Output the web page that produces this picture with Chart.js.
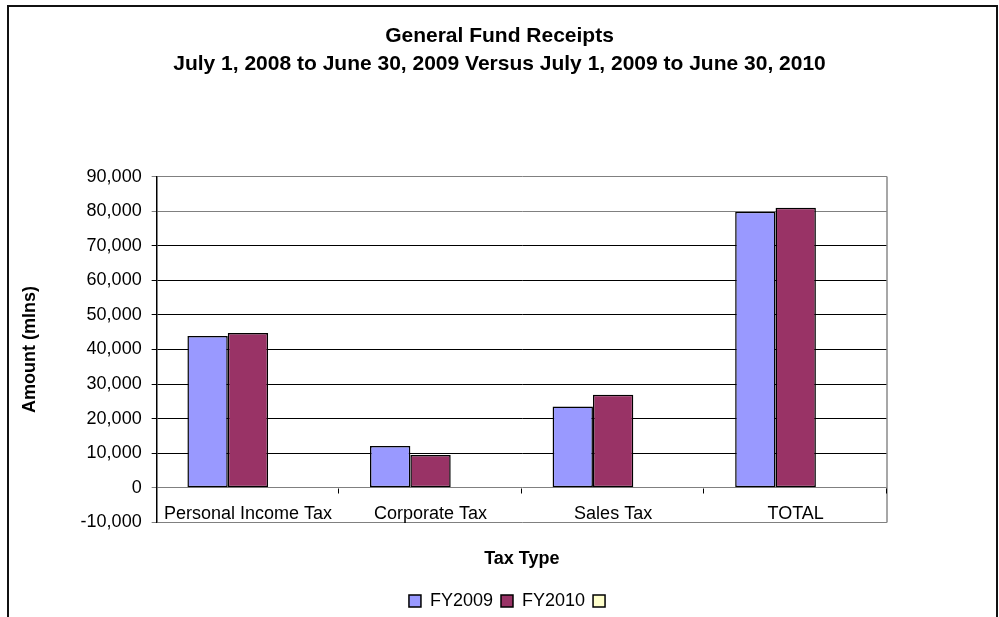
<!DOCTYPE html>
<html>
<head>
<meta charset="utf-8">
<script src="https://cdn.jsdelivr.net/npm/chart.js@4"></script>
<style>
  html, body { margin: 0; padding: 0; background: #fff; overflow: hidden; }
  #wrap { width: 999px; height: 617px; overflow: hidden; }
</style>
</head>
<body>
<div id="wrap"><canvas id="receipts" width="999" height="620"></canvas></div>
<script>
// General fund receipts, millions
const taxTypes = ['Personal Income Tax', 'Corporate Tax', 'Sales Tax', 'TOTAL'];
const fy2009 = [43900, 12100, 23500, 79800];
const fy2010 = [44800, 9500, 26900, 81000];
const unnamed = [null, null, null, null];   // third series, left blank in the workbook
const yTicks = [-10000, 0, 10000, 20000, 30000, 40000, 50000, 60000, 70000, 80000, 90000];

const FONT = "'Liberation Sans', Arial, sans-serif";
Chart.defaults.font.family = FONT;
Chart.defaults.font.size = 18;
Chart.defaults.color = '#000';

// frame, right border of the plot and category ticks on the zero line
const framePlugin = {
  id: 'frame',
  afterLayout(chart) {
    // legend sits a little right of the page centre
    chart.legend.left += 12;
    chart.legend.right += 12;
  },
  beforeDraw(chart) {
    const c = chart.ctx;
    c.save();
    c.fillStyle = '#fff';
    c.fillRect(0, 0, chart.width, chart.height);
    c.restore();
  },
  afterDraw(chart) {
    const c = chart.ctx, a = chart.chartArea;
    const y = chart.scales.y;
    c.save();
    c.lineWidth = 2;
    c.strokeStyle = '#111';
    c.strokeRect(8, 6, 989, 700);
    c.strokeStyle = '#8a8a8a';
    c.lineWidth = 1.5;
    c.beginPath();
    c.moveTo(a.right, a.top);
    c.lineTo(a.right, a.bottom);
    c.stroke();
    const y0 = Math.round(y.getPixelForValue(0)) + 0.5;
    const step = (a.right - a.left) / taxTypes.length;
    c.strokeStyle = '#000';
    c.lineWidth = 1;
    c.beginPath();
    for (let i = 1; i <= taxTypes.length; i++) {
      const px = Math.round(a.left + step * i) - 0.5;
      c.moveTo(px, y0);
      c.lineTo(px, y0 + 5);
    }
    c.stroke();
    c.restore();
  }
};

new Chart(document.getElementById('receipts'), {
  type: 'bar',
  data: {
    labels: taxTypes,
    datasets: [
      { label: 'FY2009', data: fy2009, backgroundColor: '#9999FF' },
      { label: 'FY2010', data: fy2010, backgroundColor: '#993366' },
      { label: '', data: unnamed, backgroundColor: '#FFFFCC' }
    ]
  },
  options: {
    responsive: false,
    animation: false,
    layout: { padding: { left: 10, right: 10, top: 0, bottom: 0 } },
    datasets: {
      bar: { categoryPercentage: 0.663, barPercentage: 1, borderColor: '#000', borderWidth: 1.5, borderSkipped: false }
    },
    plugins: {
      tooltip: { enabled: false },
      title: {
        display: true,
        text: ['General Fund Receipts', 'July 1, 2008 to June 30, 2009 Versus July 1, 2009 to June 30, 2010'],
        font: { size: 21, weight: 'bold', lineHeight: 1.3 },
        padding: { top: 23, bottom: 99 }
      },
      legend: {
        position: 'bottom',
        labels: { boxWidth: 12, boxHeight: 12, padding: 8, font: { size: 18 } }
      }
    },
    scales: {
      x: {
        grid: { display: false },
        border: { display: false },
        ticks: { mirror: true, padding: -2, maxRotation: 0, autoSkip: false, font: { size: 18 } },
        title: { display: true, text: 'Tax Type', font: { size: 18, weight: 'bold' }, padding: { top: 22, bottom: 14 } }
      },
      y: {
        min: -10000,
        max: 90000,
        afterBuildTicks(scale) { scale.ticks = yTicks.map(v => ({ value: v })); },
        grid: {
          color: ctx => [90000, 80000, 0, -10000].includes(ctx.tick && ctx.tick.value) ? '#808080' : '#000',
          lineWidth: 1,
          tickLength: 5
        },
        border: { color: '#000', width: 1.5 },
        ticks: {
          padding: 10,
          font: { size: 18 },
          callback: v => v.toLocaleString('en-US')
        },
        title: { display: true, text: 'Amount (mlns)', font: { size: 18, weight: 'bold' }, padding: { top: 9, bottom: 30 } }
      },
      // empty right-hand gutter beside the plot
      gutter: {
        type: 'linear',
        position: 'right',
        display: true,
        grid: { display: false },
        border: { display: false },
        ticks: { display: false },
        afterFit(scale) { scale.width = 102; }
      }
    }
  },
  plugins: [framePlugin]
});
</script>
</body>
</html>
